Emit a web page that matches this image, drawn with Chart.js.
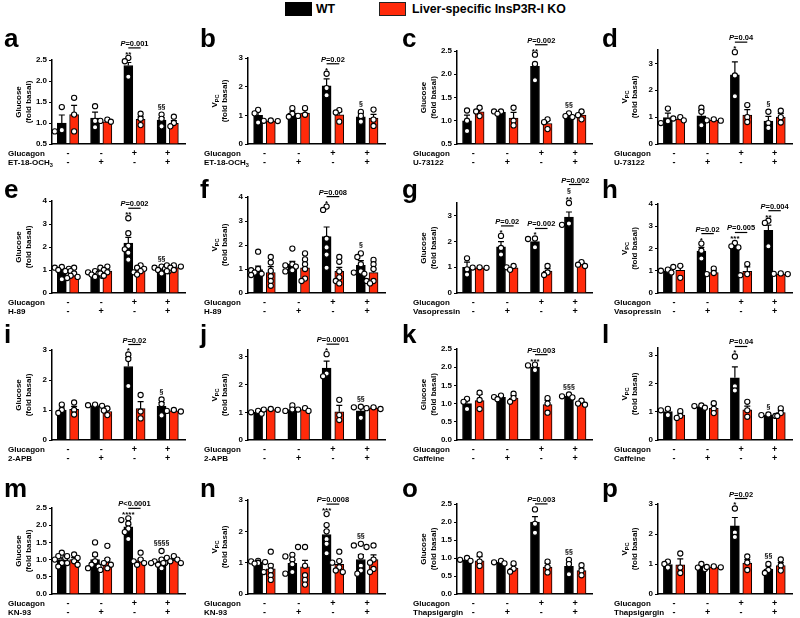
<!DOCTYPE html>
<html>
<head>
<meta charset="utf-8">
<script src="https://cdn.jsdelivr.net/npm/chart.js@4.4.0/dist/chart.umd.min.js"></script>
<style>
  body { margin: 0; background: #fff; width: 800px; height: 618px; position: relative; overflow: hidden;
         font-family: 'Liberation Sans', Arial, sans-serif; }
  canvas { position: absolute; }
  .key { position: absolute; top: 2px; width: 27px; height: 14px; box-sizing: border-box; }
  .keytext { position: absolute; top: 1px; font-weight: bold; font-size: 12.3px; line-height: 16px; }
</style>
</head>
<body>
<div class="key" style="left:285px;background:#000"></div>
<div class="keytext" style="left:316px">WT</div>
<div class="key" style="left:379px;background:#ff2a0a;border:1.5px solid #222"></div>
<div class="keytext" style="left:412px">Liver-specific InsP3R-I KO</div>
<script>
const FONT = "'Liberation Sans', Arial, sans-serif";
const RED = "#ff2a0a";

// ---- data ----
const letters = ["a", "b", "c", "d", "e", "f", "g", "h", "i", "j", "k", "l", "m", "n", "o", "p"];
const drugs = ["ET-18-OCH_3", "ET-18-OCH_3", "U-73122", "U-73122", "H-89", "H-89", "Vasopressin", "Vasopressin",
  "2-APB", "2-APB", "Caffeine", "Caffeine", "KN-93", "KN-93", "Thapsigargin", "Thapsigargin"];
const yTitles = ["Glucose", "V_PC", "Glucose", "V_PC", "Glucose", "V_PC", "Glucose", "V_PC",
  "Glucose", "V_PC", "Glucose", "V_PC", "Glucose", "V_PC", "Glucose", "V_PC"];
const glucagonRow = ["-", "-", "+", "+"];
const drugRow = ["-", "+", "-", "+"];
const yMin = [0.5, 0, 0.5, 0, 0, 0, 0, 0, 0, 0, 0, 0, 0, 0, 0, 0];
const yMax = [2.5, 3, 2.5, 3.5, 4, 4, 3.5, 4, 3, 3.25, 2.5, 3.25, 2.5, 3, 2.5, 3];
const yStep = [0.5, 1, 0.5, 1, 1, 1, 1, 1, 1, 1, 0.5, 1, 0.5, 1, 0.5, 1];

const wtMean = [
  [1.0, 1.12, 2.37, 1.07], [1.0, 1.08, 2.03, 0.95], [1.0, 1.18, 2.17, 1.11], [0.98, 1.05, 2.58, 0.85],
  [1.0, 0.8, 2.17, 1.02], [0.98, 1.2, 2.35, 1.15], [1.0, 1.8, 2.0, 2.95], [1.0, 1.88, 2.12, 2.82],
  [1.0, 1.15, 2.45, 1.12], [1.0, 1.1, 2.6, 1.05], [1.0, 1.17, 2.0, 1.2], [1.0, 1.18, 2.2, 0.87],
  [1.0, 1.0, 1.95, 0.95], [1.02, 0.98, 1.9, 1.1], [0.95, 0.88, 2.0, 0.77], [0.98, 0.9, 2.27, 0.83]];
const wtSem = [
  [0.19, 0.14, 0.07, 0.06], [0.16, 0.07, 0.24, 0.13], [0.12, 0.02, 0.03, 0.02], [0.17, 0.2, 0.48, 0.18],
  [0.08, 0.04, 0.25, 0.06], [0.14, 0.12, 0.4, 0.2], [0.2, 0.2, 0.1, 0.2], [0.04, 0.17, 0.15, 0.23],
  [0.1, 0.03, 0.3, 0.13], [0.04, 0.08, 0.25, 0.1], [0.08, 0.04, 0.04, 0.03], [0.05, 0.03, 0.38, 0.02],
  [0.05, 0.1, 0.06, 0.07], [0.02, 0.1, 0.12, 0.16], [0.07, 0.04, 0.15, 0.1], [0.05, 0.06, 0.28, 0.1]];
const koMean = [
  [1.2, 1.03, 1.09, 0.99], [0.8, 1.08, 1.02, 0.9], [1.19, 1.06, 0.94, 1.12], [0.93, 0.88, 1.08, 1.0],
  [0.8, 0.95, 1.0, 1.1], [0.85, 1.05, 0.9, 0.85], [0.98, 0.98, 0.85, 1.12], [1.02, 0.92, 0.97, 0.85],
  [1.02, 0.95, 1.05, 0.97], [1.1, 1.1, 1.02, 1.15], [1.08, 1.15, 0.97, 1.02], [0.88, 1.12, 1.07, 0.97],
  [1.0, 0.93, 0.97, 0.98], [0.8, 0.87, 0.95, 1.1], [0.92, 0.72, 0.75, 0.65], [0.97, 0.9, 1.03, 0.95]];
const koSem = [
  [0.22, 0.03, 0.06, 0.07], [0.02, 0.12, 0.11, 0.13], [0.07, 0.12, 0.07, 0.07], [0.04, 0.02, 0.2, 0.14],
  [0.07, 0.06, 0.06, 0.05], [0.25, 0.15, 0.17, 0.15], [0.02, 0.05, 0.1, 0.07], [0.18, 0.08, 0.2, 0.02],
  [0.1, 0.08, 0.23, 0.02], [0.02, 0.03, 0.23, 0.03], [0.17, 0.07, 0.12, 0.04], [0.07, 0.12, 0.13, 0.08],
  [0.06, 0.1, 0.05, 0.04], [0.15, 0.2, 0.1, 0.15], [0.12, 0.08, 0.1, 0.07], [0.2, 0.02, 0.12, 0.1]];

const wtPoints = [
  [[1.38, 0.83, 0.8], [1.4, 1.05, 0.9], [2.55, 2.47, 2.1], [1.2, 1.1, 0.92]],
  [[1.19, 1.07, 0.75], [1.25, 1.05, 0.95], [2.45, 1.95, 1.7], [1.12, 0.98, 0.78]],
  [[1.22, 1.0, 0.78], [1.2, 1.2, 1.15], [2.42, 2.22, 1.87], [1.16, 1.1, 1.08]],
  [[1.32, 0.85, 0.78], [1.35, 1.2, 0.7], [3.42, 2.55, 1.78], [1.2, 0.78, 0.6]],
  [[1.13, 1.1, 1.05, 1.0, 0.95, 0.6], [0.95, 0.9, 0.85, 0.8, 0.75, 0.7], [3.25, 2.6, 2.05, 1.9, 1.75, 1.45], [1.15, 1.1, 1.05, 1.0, 0.95, 0.85]],
  [[1.72, 1.0, 0.95, 0.85, 0.8, 0.75], [1.85, 1.2, 1.15, 1.1, 0.95, 0.9], [3.6, 3.46, 2.26, 1.9, 1.6, 1.05], [1.65, 1.5, 1.2, 0.9, 0.85, 0.8]],
  [[1.35, 0.92, 0.72], [2.22, 1.75, 1.5], [2.12, 2.1, 1.78], [3.5, 2.7, 2.65]],
  [[1.05, 1.0, 0.92], [2.22, 1.9, 1.55], [2.25, 2.1, 2.05], [3.25, 3.15, 2.1]],
  [[1.18, 1.0, 0.9], [1.18, 1.16, 1.14], [2.85, 2.7, 1.8], [1.35, 1.2, 0.82]],
  [[1.05, 1.0, 0.95], [1.25, 1.1, 1.05], [3.1, 2.4, 2.3], [1.2, 1.18, 0.8]],
  [[1.13, 1.05, 0.85], [1.22, 1.18, 1.12], [2.07, 2.05, 1.92], [1.25, 1.2, 1.17]],
  [[1.1, 1.05, 0.88], [1.22, 1.2, 1.14], [2.95, 1.9, 1.75], [0.9, 0.88, 0.85]],
  [[1.2, 1.1, 1.05, 1.0, 0.9, 0.8], [1.5, 1.15, 0.95, 0.85, 0.8, 0.75], [2.2, 2.15, 2.05, 1.9, 1.8, 1.6], [1.25, 1.0, 0.95, 0.9, 0.85, 0.75]],
  [[1.06, 1.04, 1.02, 1.0, 0.99, 0.97], [1.25, 1.2, 1.1, 0.95, 0.7, 0.65], [2.55, 2.2, 2.0, 1.75, 1.6, 1.3], [1.6, 1.55, 1.2, 0.9, 0.75, 0.65]],
  [[1.0, 0.95, 0.92], [0.92, 0.88, 0.85], [2.35, 1.95, 1.7], [0.95, 0.83, 0.55]],
  [[1.08, 1.0, 0.88], [1.0, 0.88, 0.83], [2.85, 2.05, 1.9], [1.0, 0.8, 0.7]]];
const koPoints = [
  [[1.6, 1.2, 0.8], [1.08, 1.05, 1.03], [1.22, 1.1, 0.95], [1.15, 1.0, 0.92]],
  [[0.82, 0.81, 0.8], [1.25, 1.02, 0.98], [1.18, 1.1, 0.78], [1.2, 0.85, 0.63]],
  [[1.28, 1.2, 1.1], [1.28, 1.0, 0.9], [1.03, 0.97, 0.82], [1.2, 1.12, 1.03]],
  [[1.0, 0.95, 0.88], [0.92, 0.88, 0.87], [1.45, 1.0, 0.82], [1.24, 1.0, 0.8]],
  [[1.1, 0.95, 0.85, 0.75, 0.7, 0.65], [1.15, 1.1, 1.0, 0.9, 0.85, 0.75], [1.2, 1.1, 1.05, 0.95, 0.9, 0.8], [1.2, 1.2, 1.15, 1.1, 1.0, 0.95]],
  [[1.5, 1.27, 0.92, 0.7, 0.5, 0.3], [1.65, 1.4, 1.2, 1.0, 0.6, 0.5], [1.5, 1.3, 0.9, 0.65, 0.5, 0.4], [1.38, 1.2, 1.0, 0.5, 0.5, 0.4]],
  [[1.0, 0.99, 0.98], [1.05, 1.0, 0.9], [1.05, 0.8, 0.7], [1.2, 1.1, 1.05]],
  [[1.22, 1.17, 0.68], [1.1, 0.9, 0.85], [1.3, 0.85, 0.8], [0.88, 0.86, 0.85]],
  [[1.25, 1.0, 0.85], [1.05, 0.98, 0.83], [1.5, 0.95, 0.72], [1.0, 0.97, 0.95]],
  [[1.12, 1.1, 1.09], [1.15, 1.1, 1.05], [1.45, 0.9, 0.72], [1.18, 1.15, 1.12]],
  [[1.3, 1.1, 0.85], [1.27, 1.15, 1.05], [1.15, 1.0, 0.75], [1.08, 1.0, 0.97]],
  [[1.02, 0.85, 0.78], [1.3, 1.1, 0.95], [1.35, 1.05, 0.82], [1.12, 0.95, 0.85]],
  [[1.15, 1.1, 1.05, 0.95, 0.9, 0.85], [1.4, 1.0, 0.9, 0.85, 0.75, 0.7], [1.2, 1.0, 0.95, 0.9, 0.9, 0.85], [1.1, 1.05, 1.0, 0.95, 0.9, 0.9]],
  [[1.35, 0.9, 0.75, 0.7, 0.6, 0.45], [1.5, 1.5, 0.9, 0.6, 0.45, 0.3], [1.35, 1.05, 1.0, 0.85, 0.75, 0.7], [1.55, 1.5, 1.1, 1.0, 0.8, 0.7]],
  [[1.1, 0.9, 0.78], [0.85, 0.7, 0.62], [0.9, 0.75, 0.6], [0.8, 0.65, 0.52]],
  [[1.35, 0.88, 0.7], [0.92, 0.9, 0.89], [1.25, 1.05, 0.8], [1.15, 0.95, 0.78]]];

const stars = [
  ["", "", "**", ""], ["", "", "*", ""], ["", "", "**", ""], ["", "", "*", ""],
  ["", "", "**", ""], ["", "", "*", ""], ["", "*", "*", "**"], ["", "*", "***", "**"],
  ["", "", "*", ""], ["", "", "*", ""], ["", "", "***", ""], ["", "", "*", ""],
  ["", "", "****", ""], ["", "", "***", ""], ["", "", "", ""], ["", "", "*", ""]];
const sections = [
  ["", "", "", "§§"], ["", "", "", "§"], ["", "", "", "§§"], ["", "", "", "§"],
  ["", "", "", "§§"], ["", "", "", "§"], ["", "", "", "§"], ["", "", "", ""],
  ["", "", "", "§"], ["", "", "", "§§"], ["", "", "", "§§§"], ["", "", "", "§"],
  ["", "", "", "§§§§"], ["", "", "", "§§"], ["", "", "", "§§"], ["", "", "", "§§"]];
const pLabels = [
  ["", "", "P=0.001", ""], ["", "", "P=0.02", ""], ["", "", "P=0.002", ""], ["", "", "P=0.04", ""],
  ["", "", "P=0.002", ""], ["", "", "P=0.008", ""], ["", "P=0.02", "P=0.002", "P=0.002"], ["", "P=0.02", "P=0.005", "P=0.004"],
  ["", "", "P=0.02", ""], ["", "", "P=0.0001", ""], ["", "", "P=0.003", ""], ["", "", "P=0.04", ""],
  ["", "", "P<0.0001", ""], ["", "", "P=0.0008", ""], ["", "", "P=0.003", ""], ["", "", "P=0.02", ""]];

// ---- layout ----
const colLeft = [0, 196, 398, 598];
const colWidth = [196, 202, 200, 202];
const plotLeft = [52, 248, 457, 658];
const plotRight = [185, 385, 594, 792];
const rowTop = [22, 168, 314, 468];
const plotBottom = [144, 293, 440, 594];
const plotTop = [60, 58, 51, 50, 201, 197, 203, 204, 350, 350, 349, 348, 508, 500, 504, 504];
const letterBase = [47, 198, 343, 497];

Chart.defaults.font.family = FONT;
Chart.defaults.color = "#000";

const barX = (g, s) => g + 0.48 + (s === 0 ? -0.185 : 0.185);

// simple beeswarm: push overlapping points sideways, in pixels
function swarm(vals, yPerUnit, xPerUnit) {
  const placed = [];
  const out = vals.map(() => 0);
  const order = vals.map((v, k) => k).sort((a, b) => vals[b] - vals[a]);
  order.forEach(k => {
    const py = vals[k] * yPerUnit;
    for (const dx of [0, -3.5, 3.5, -7, 7, -10.5, 10.5]) {
      if (placed.every(p => Math.hypot(p.x - dx, p.y - py) >= 4)) {
        placed.push({ x: dx, y: py });
        out[k] = dx / xPerUnit;
        break;
      }
    }
  });
  return out;
}

function drawRich(ctx, text, x, y, size, align) {
  const [main, sub] = text.split("_");
  ctx.font = `bold ${size}px ${FONT}`;
  const w1 = ctx.measureText(main).width;
  ctx.font = `bold ${size * 0.7}px ${FONT}`;
  const w2 = sub ? ctx.measureText(sub).width : 0;
  const x0 = align === "center" ? x - (w1 + w2) / 2 : x;
  ctx.textAlign = "left";
  ctx.font = `bold ${size}px ${FONT}`;
  ctx.fillText(main, x0, y);
  if (sub) {
    ctx.font = `bold ${size * 0.7}px ${FONT}`;
    ctx.fillText(sub, x0 + w1, y + size * 0.25);
  }
}

function drawP(ctx, text, cx, y) {
  ctx.font = `italic bold 7.5px ${FONT}`;
  const w1 = ctx.measureText("P").width;
  ctx.font = `bold 7.5px ${FONT}`;
  const w2 = ctx.measureText(text.slice(1)).width;
  const x0 = cx - (w1 + w2) / 2;
  ctx.textAlign = "left";
  ctx.font = `italic bold 7.5px ${FONT}`;
  ctx.fillText("P", x0, y);
  ctx.font = `bold 7.5px ${FONT}`;
  ctx.fillText(text.slice(1), x0 + w1, y);
}

function decor(i) {
  const r = Math.floor(i / 4);
  return {
    id: "decor" + i,
    afterDatasetDraw(chart, args) {
      if (args.index > 1) return;
      const means = args.index === 0 ? wtMean[i] : koMean[i];
      const sems = args.index === 0 ? wtSem[i] : koSem[i];
      const { x, y } = chart.scales;
      const ctx = chart.ctx;
      ctx.save();
      ctx.strokeStyle = "#000";
      ctx.lineWidth = 1.2;
      means.forEach((m, g) => {
        const px = x.getPixelForValue(barX(g, args.index));
        const y0 = y.getPixelForValue(m), y1 = y.getPixelForValue(m + sems[g]);
        ctx.beginPath();
        ctx.moveTo(px, y0); ctx.lineTo(px, y1);
        ctx.moveTo(px - 3, y1); ctx.lineTo(px + 3, y1);
        ctx.stroke();
      });
      ctx.restore();
    },
    afterDraw(chart) {
      const ctx = chart.ctx;
      const { x, y } = chart.scales;
      const area = chart.chartArea;
      ctx.save();
      ctx.fillStyle = "#000";
      ctx.textBaseline = "alphabetic";

      // panel letter
      ctx.font = `bold 26px ${FONT}`;
      ctx.textAlign = "left";
      ctx.fillText(letters[i], 4, letterBase[r] - rowTop[r]);

      // y title, two rotated lines
      const cy = (area.top + area.bottom) / 2;
      [[yTitles[i], area.left - 34], ["(fold basal)", area.left - 24]].forEach(([t, tx]) => {
        ctx.save();
        ctx.translate(tx, cy);
        ctx.rotate(-Math.PI / 2);
        drawRich(ctx, t, 0, 3, 8, "center");
        ctx.restore();
      });

      // treatment table
      const rowY = [area.bottom + 12, area.bottom + 21];
      drawRich(ctx, "Glucagon", area.left - 44, rowY[0], 8, "left");
      drawRich(ctx, drugs[i], area.left - 44, rowY[1], 8, "left");
      ctx.font = `bold 9px ${FONT}`;
      ctx.textAlign = "center";
      for (let g = 0; g < 4; g++) {
        const gx = x.getPixelForValue(g + 0.48);
        ctx.fillText(glucagonRow[g], gx, rowY[0]);
        ctx.fillText(drugRow[g], gx, rowY[1]);
      }

      // significance marks
      for (let g = 0; g < 4; g++) {
        const wx = x.getPixelForValue(barX(g, 0));
        const kx = x.getPixelForValue(barX(g, 1));
        const wTop = Math.max(...wtPoints[i][g], wtMean[i][g] + wtSem[i][g]);
        const kTop = Math.max(...koPoints[i][g], koMean[i][g] + koSem[i][g]);
        let cur = y.getPixelForValue(wTop) - 3.5;
        ctx.textAlign = "center";
        if (stars[i][g]) {
          ctx.font = `bold 8px ${FONT}`;
          ctx.fillText(stars[i][g], wx, cur + 2.4);
          cur -= 4.5;
        }
        if (sections[i][g]) {
          ctx.font = `bold 7px ${FONT}`;
          ctx.fillText(sections[i][g], wx, cur - 2.5);
          cur -= 8.5;
        }
        if (pLabels[i][g]) {
          const lineY = Math.min(cur, y.getPixelForValue(kTop) - 3.5) - 2;
          ctx.strokeStyle = "#000";
          ctx.lineWidth = 1.2;
          ctx.beginPath();
          ctx.moveTo(wx, lineY); ctx.lineTo(kx, lineY);
          ctx.stroke();
          drawP(ctx, pLabels[i][g], (wx + kx) / 2, lineY - 2);
        }
      }
      ctx.restore();
    }
  };
}

for (let i = 0; i < 16; i++) {
  const r = Math.floor(i / 4), c = i % 4;
  const left = colLeft[c], top = rowTop[r];
  const w = colWidth[c];
  const h = (r === 3 ? 618 : plotBottom[r] + 24) - top;
  const canvas = document.createElement("canvas");
  canvas.width = w; canvas.height = h;
  canvas.style.left = left + "px"; canvas.style.top = top + "px";
  canvas.style.width = w + "px"; canvas.style.height = h + "px";
  document.body.appendChild(canvas);

  const xPerUnit = (plotRight[c] - plotLeft[c]) / 4;
  const yPerUnit = (plotBottom[r] - plotTop[i]) / (yMax[i] - yMin[i]);

  const pointSet = (pts, s) => pts.flatMap((vals, g) => {
    const off = swarm(vals, yPerUnit, xPerUnit);
    return vals.map((v, k) => ({ x: barX(g, s) + off[k], y: v }));
  });

  new Chart(canvas, {
    data: {
      datasets: [
        { type: "bar", label: "WT", data: wtMean[i].map((v, g) => ({ x: barX(g, 0), y: v })), base: yMin[i],
          backgroundColor: "#000", borderColor: "#000", borderWidth: 1, barThickness: 9, grouped: false, order: 3 },
        { type: "bar", label: "Liver-specific InsP3R-I KO", data: koMean[i].map((v, g) => ({ x: barX(g, 1), y: v })), base: yMin[i],
          backgroundColor: RED, borderColor: "#000", borderWidth: 1, barThickness: 9, grouped: false, order: 2 },
        { type: "scatter", data: pointSet(wtPoints[i], 0).concat(pointSet(koPoints[i], 1)),
          pointRadius: 2.6, pointBackgroundColor: "#fff", pointBorderColor: "#000", pointBorderWidth: 1.1,
          order: 1, clip: false }
      ]
    },
    options: {
      responsive: false,
      devicePixelRatio: 1,
      animation: false,
      events: [],
      layout: {
        padding: { top: plotTop[i] - top, bottom: top + h - plotBottom[r], left: 0, right: left + w - plotRight[c] }
      },
      plugins: { legend: { display: false }, tooltip: { enabled: false } },
      scales: {
        x: {
          type: "linear", min: 0, max: 4, offset: false,
          ticks: { display: false },
          grid: { display: false },
          border: { display: true, color: "#000", width: 1.5 },
          afterFit: (scale) => { scale.height = 0; }
        },
        y: {
          type: "linear", min: yMin[i], max: yMax[i],
          ticks: {
            stepSize: yStep[i], includeBounds: false, padding: 2,
            font: { size: 8, weight: "bold" },
            callback: (v) => (yStep[i] < 1 ? v.toFixed(1) : String(v))
          },
          grid: { display: true, drawOnChartArea: false, drawTicks: true, tickLength: 3, color: "#000", lineWidth: 1 },
          border: { display: true, color: "#000", width: 1.5 },
          afterFit: (scale) => { scale.width = plotLeft[c] - left; }
        }
      }
    },
    plugins: [decor(i)]
  });
}
</script>
</body>
</html>
